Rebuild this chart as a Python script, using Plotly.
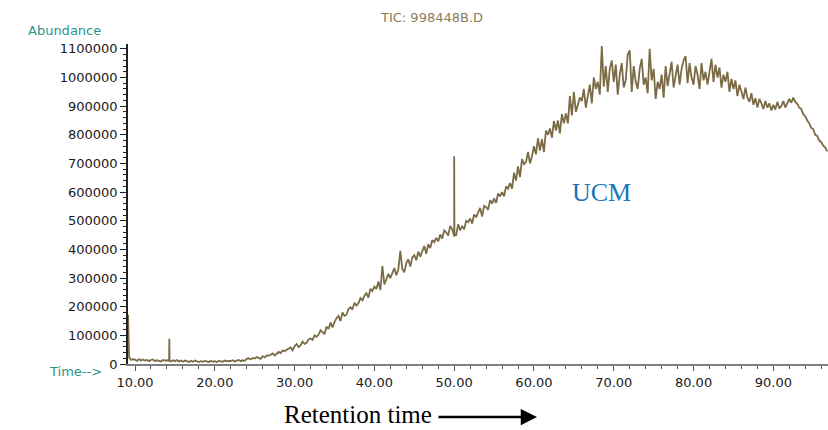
import plotly.graph_objects as go

# ---- data (abundance in thousands), 0.25-min grid starting at 9.25 min ----
grid_start = 9.25
grid_step = 0.25
abundance_k = [
    24, 14, 17,                 # 9.25-9.75
    15, 11, 17, 12,             # 10
    16, 12, 14, 10,             # 11
    14, 16, 10, 13,             # 12
    11, 9, 14, 12,              # 13
    13, 10, 9, 13,              # 14
    10, 14, 9, 12,              # 15
    8, 12, 10, 7,               # 16
    11, 8, 12, 9,               # 17
    7, 10, 8, 11,               # 18
    9, 7, 11, 8,                # 19
    10, 7, 11, 9,               # 20
    8, 12, 9, 11,               # 21
    10, 13, 9, 12,              # 22
    14, 10, 13, 11,             # 23
    18, 20, 16, 21,             # 24
    19, 24, 21, 18,             # 25
    27, 23, 30, 29,             # 26
    32, 37, 30, 35,             # 27
    42, 38, 47, 45,             # 28
    49, 55, 58, 48,             # 29
    62, 70, 59, 66,             # 30
    78, 70, 74, 86,             # 31
    89, 84, 100, 95,            # 32
    102, 118, 110, 104,         # 33
    131, 122, 145, 128,         # 34
    146, 160, 168, 150,         # 35
    180, 168, 172, 192,         # 36
    198, 190, 214, 204,         # 37
    212, 230, 222, 238,         # 38
    247, 232, 262, 255,         # 39
    270, 262, 288, 258,         # 40
    342, 278, 296, 315,         # 41
    300, 318, 335, 310,         # 42
    330, 395, 332, 320,         # 43
    352, 366, 340, 372,         # 44
    380, 362, 392, 375,         # 45
    395, 412, 385, 418,         # 46
    405, 432, 425, 440,         # 47
    428, 452, 438, 466,         # 48
    460, 448, 482, 470,         # 49
    445, 450, 488, 466,         # 50
    482, 470, 500, 495,         # 51
    508, 490, 522, 512,         # 52
    530, 545, 515, 552,         # 53
    548, 538, 572, 560,         # 54
    578, 562, 595, 585,         # 55
    600, 585, 620, 612,         # 56
    632, 612, 668, 640,         # 57
    690, 652, 715, 698,         # 58
    705, 740, 700, 725,         # 59
    760, 732, 788, 745,         # 60
    785, 740, 815, 800,         # 61
    822, 790, 848, 815,         # 62
    850, 805, 872, 840,         # 63
    875, 840, 935, 868,         # 64
    950, 880, 905, 930,         # 65
    918, 960, 895, 940,         # 66
    975, 910, 1000, 960,        # 67
    985, 940, 1110, 968,        # 68
    1040, 950, 1030, 1060,      # 69
    985, 1045, 940, 1010,       # 70
    1050, 965, 990, 1080,       # 71
    1095, 950, 1040, 985,       # 72
    960, 1030, 1065, 975,       # 73
    1000, 945, 1100, 990,       # 74
    1030, 925, 985, 960,        # 75
    1010, 930, 1040, 970,       # 76
    1020, 1055, 965, 1000,      # 77
    1045, 975, 1030, 1060,      # 78
    1075, 980, 1050, 1000,      # 79
    975, 1040, 1010, 960,       # 80
    1050, 990, 1020, 975,       # 81
    1030, 1065, 985, 1045,      # 82
    1000, 1035, 965, 1010,      # 83
    985, 1020, 950, 995,        # 84
    960, 990, 935, 975,         # 85
    950, 925, 965, 930,         # 86
    915, 945, 905, 928,         # 87
    895, 925, 910, 890,         # 88
    918, 895, 910, 885,         # 89
    905, 888, 915, 892,         # 90
    900, 918, 895, 910,         # 91
    925, 912, 930, 915,         # 92
    908, 895, 890, 872,         # 93
    865, 850, 840, 824,         # 94
    820, 800, 796, 780,         # 95
    775, 762, 756, 742,         # 96
]
grid_times = [round(grid_start + grid_step * i, 2) for i in range(len(abundance_k))]

# narrow spikes (min, thousands)
spike_times = [9.13, 14.27, 14.30, 14.33, 49.97, 50.00, 50.03]
spike_k = [172, 11, 88, 11, 450, 725, 450]

y_ticks = [0, 100000, 200000, 300000, 400000, 500000, 600000,
           700000, 800000, 900000, 1000000, 1100000]
y_ticktext = ["0", "100000", "200000", "300000", "400000", "500000", "600000",
              "700000", "800000", "900000", "1000000", "1100000"]
x_ticks = [10, 20, 30, 40, 50, 60, 70, 80, 90]
x_ticktext = ["10.00", "20.00", "30.00", "40.00", "50.00",
              "60.00", "70.00", "80.00", "90.00"]

pts = sorted(zip(grid_times + spike_times, abundance_k + spike_k))
times = [p[0] for p in pts]
abundance = [p[1] * 1000 for p in pts]

# ---- figure ----
W, H = 828, 430
L, R, T, B = 128, 0, 44, 66
PW, PH = W - L - R, H - T - B


def px(x):
    return (x - L) / PW


def py(y):
    return (H - B - y) / PH


line_col = "#7b6b47"
teal = "#2a948c"

fig = go.Figure()
fig.add_trace(go.Scatter(x=times, y=abundance, mode="lines",
                         line=dict(color=line_col, width=1.8),
                         showlegend=False, hoverinfo="x+y"))

tick_font = dict(family="DejaVu Sans", size=13, color="#1a1a1a")

fig.update_layout(
    width=W, height=H,
    margin=dict(l=L, r=R, t=T, b=B, autoexpand=False),
    paper_bgcolor="white", plot_bgcolor="white",
    xaxis=dict(range=[9.12, 96.85], showgrid=False, zeroline=False,
               showline=True, linecolor="#7f7f7f", linewidth=2,
               ticks="outside", ticklen=5, tickwidth=1, tickcolor="#555",
               tickvals=x_ticks, ticktext=x_ticktext, tickfont=tick_font,
               automargin=False,
               minor=dict(dtick=2, tick0=0, ticks="outside", ticklen=3,
                          tickcolor="#555", showgrid=False)),
    yaxis=dict(range=[0, 1117000], showgrid=False, zeroline=False,
               showline=True, linecolor="#222", linewidth=1.5,
               ticks="outside", ticklen=6, tickwidth=1, tickcolor="#222",
               tickvals=y_ticks, ticktext=y_ticktext, tickfont=tick_font,
               automargin=False,
               minor=dict(dtick=20000, tick0=0, ticks="outside", ticklen=3,
                          tickcolor="#222", showgrid=False)),
)

annots = [
    dict(text="Abundance", x=px(64), y=py(30),
         font=dict(family="DejaVu Sans", size=13, color=teal)),
    dict(text="TIC: 998448B.D", x=px(431), y=py(18),
         font=dict(family="DejaVu Sans", size=13, color="#8b7d5a")),
    dict(text="Time-->", x=px(75), y=py(371),
         font=dict(family="DejaVu Sans", size=13, color=teal)),
    dict(text="UCM", x=px(601), y=py(192),
         font=dict(family="Liberation Serif", size=26, color="#1b75bc")),
    dict(text="Retention time", x=px(358), y=py(414),
         font=dict(family="Liberation Serif", size=25, color="#000")),
]
for a in annots:
    fig.add_annotation(xref="paper", yref="paper", showarrow=False,
                       xanchor="center", yanchor="middle", **a)

# arrow after "Retention time"
fig.add_annotation(xref="paper", yref="paper", x=px(537), y=py(417),
                   ax=-100, ay=0, text="", showarrow=True,
                   arrowhead=2, arrowsize=1.3, arrowwidth=2.5,
                   arrowcolor="#000")

fig.write_html("out.html",
               config={"displayModeBar": False},
               post_script="document.body.style.margin='0';"
                           "document.body.style.overflow='hidden';")
